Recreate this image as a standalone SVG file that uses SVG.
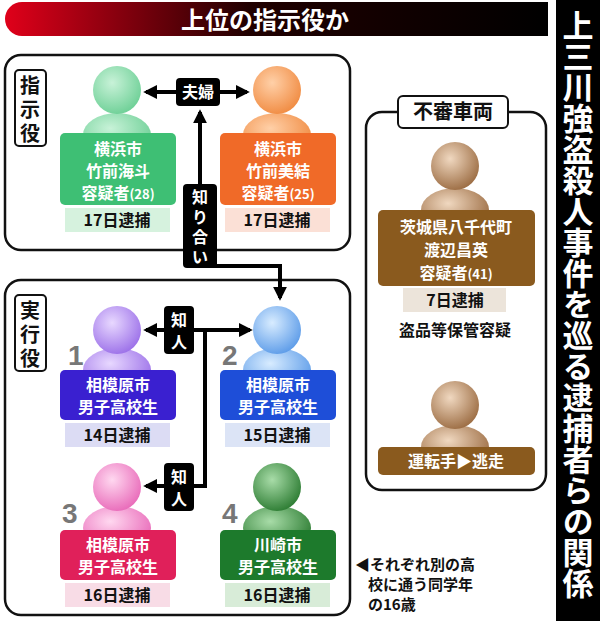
<svg xmlns="http://www.w3.org/2000/svg" width="600" height="621" viewBox="0 0 600 621">
<style>
text{font-family:"Noto Sans CJK JP","Liberation Sans",sans-serif;font-weight:bold}
.w{fill:#fff;font-size:16px;text-anchor:middle}
.d{fill:#111;font-size:16px;text-anchor:middle}
.v{fill:#111;font-size:20px;text-anchor:middle}
.frame{fill:#fff;stroke:#111;stroke-width:2.5}
.lbl{fill:#fff;stroke:#111;stroke-width:2}
.ln{stroke:#000;stroke-width:4;fill:none}
.num{fill:#777;font-size:28px;font-family:"Liberation Sans",sans-serif}
</style>
<defs>
<linearGradient id="tg" x1="0" x2="1"><stop offset="0" stop-color="#e0001a"/><stop offset="0.45" stop-color="#200000"/><stop offset="1" stop-color="#000"/></linearGradient>
<radialGradient id="gG" cx="0.4" cy="0.35" r="0.7"><stop offset="0" stop-color="#c8f2d8"/><stop offset="1" stop-color="#6ccf95"/></radialGradient>
<radialGradient id="gO" cx="0.4" cy="0.35" r="0.7"><stop offset="0" stop-color="#ffd0a8"/><stop offset="1" stop-color="#f08a40"/></radialGradient>
<radialGradient id="gP" cx="0.4" cy="0.35" r="0.7"><stop offset="0" stop-color="#e8d8ff"/><stop offset="1" stop-color="#9a6ee8"/></radialGradient>
<radialGradient id="gB" cx="0.4" cy="0.35" r="0.7"><stop offset="0" stop-color="#d8ecff"/><stop offset="1" stop-color="#5a9ae8"/></radialGradient>
<radialGradient id="gK" cx="0.4" cy="0.35" r="0.7"><stop offset="0" stop-color="#ffd8f0"/><stop offset="1" stop-color="#e868b8"/></radialGradient>
<radialGradient id="gD" cx="0.4" cy="0.35" r="0.7"><stop offset="0" stop-color="#a8dca8"/><stop offset="1" stop-color="#2a7a30"/></radialGradient>
<radialGradient id="gN" cx="0.4" cy="0.35" r="0.7"><stop offset="0" stop-color="#f0d8c0"/><stop offset="1" stop-color="#9a6a40"/></radialGradient>
<marker id="ah" viewBox="0 0 10 10" refX="8" refY="5" markerWidth="3.5" markerHeight="3.5" orient="auto-start-reverse"><path d="M0,0L10,5L0,10z" fill="#000"/></marker>
</defs>
<rect width="600" height="621" fill="#fff"/>
<g id="title">
<path d="M22,2H548V36H22A17,17 0 0 1 22,2Z" fill="url(#tg)"/>
<text x="265" y="29" fill="#fff" font-size="24" text-anchor="middle">上位の指示役か</text>
</g>
<g id="side">
<rect x="556" y="0" width="44" height="621" fill="#000"/>
<text x="578" y="10" fill="#fff" font-size="31" style="writing-mode:vertical-rl;text-anchor:start">上三川強盗殺人事件を巡る逮捕者らの関係</text>
</g>
<rect class="frame" x="5" y="55" width="345" height="195" rx="16"/>
<rect class="frame" x="5" y="280" width="345" height="335" rx="16"/>
<rect class="frame" x="366" y="112" width="180" height="378" rx="16"/>
<g id="boxlabels">
<rect class="lbl" x="15" y="70" width="31" height="76" rx="4"/>
<text x="30" y="93" class="v">指</text><text x="30" y="117" class="v">示</text><text x="30" y="141" class="v">役</text>
<rect class="lbl" x="15" y="295" width="31" height="76" rx="4"/>
<text x="30" y="318" class="v">実</text><text x="30" y="342" class="v">行</text><text x="30" y="366" class="v">役</text>
<rect class="lbl" x="398" y="96" width="110" height="32" rx="5"/>
<text x="453" y="119" class="v">不審車両</text>
</g>
<g id="connectors">
<line class="ln" x1="146" y1="92" x2="247" y2="92" marker-start="url(#ah)" marker-end="url(#ah)"/>
<path class="ln" d="M200,268V112" marker-end="url(#ah)"/>
<path class="ln" d="M200,266H280V298" marker-end="url(#ah)"/>
<line class="ln" x1="146" y1="330" x2="250" y2="330" marker-start="url(#ah)" marker-end="url(#ah)"/>
<path class="ln" d="M205,330V486H146" marker-end="url(#ah)"/>
<rect x="176" y="78" width="44" height="28" rx="4" fill="#000"/><text x="198" y="98" class="w">夫婦</text>
<rect x="183" y="184" width="34" height="84" rx="4" fill="#000"/>
<text x="200" y="203" class="w">知</text><text x="200" y="223" class="w">り</text><text x="200" y="243" class="w">合</text><text x="200" y="263" class="w">い</text>
<rect x="164" y="306" width="30" height="48" rx="4" fill="#000"/><text x="179" y="326" class="w">知</text><text x="179" y="348" class="w">人</text>
<rect x="164" y="463" width="30" height="48" rx="4" fill="#000"/><text x="179" y="483" class="w">知</text><text x="179" y="505" class="w">人</text>
</g>
<g id="p-kaito">
<ellipse cx="117" cy="135" rx="34" ry="22" fill="url(#gG)"/><circle cx="117" cy="90" r="24" fill="url(#gG)"/>
<rect x="60" y="133" width="116" height="72" rx="5" fill="#3ebf74"/>
<text x="118" y="155" class="w">横浜市</text><text x="118" y="177" class="w">竹前海斗</text><text x="118" y="199" class="w">容疑者<tspan font-size="13">(28)</tspan></text>
<rect x="65" y="208" width="105" height="24" fill="#d6f2de"/><text x="117" y="226" class="d">17日逮捕</text>
</g>
<g id="p-miyu">
<ellipse cx="277" cy="135" rx="34" ry="22" fill="url(#gO)"/><circle cx="277" cy="90" r="24" fill="url(#gO)"/>
<rect x="220" y="133" width="116" height="72" rx="5" fill="#f06a28"/>
<text x="278" y="155" class="w">横浜市</text><text x="278" y="177" class="w">竹前美結</text><text x="278" y="199" class="w">容疑者<tspan font-size="13">(25)</tspan></text>
<rect x="225" y="208" width="105" height="24" fill="#fbe0d6"/><text x="277" y="226" class="d">17日逮捕</text>
</g>
<g id="p1">
<ellipse cx="117" cy="370" rx="34" ry="22" fill="url(#gP)"/><circle cx="117" cy="330" r="24" fill="url(#gP)"/>
<text x="68" y="365" class="num">1</text>
<rect x="60" y="370" width="116" height="50" rx="5" fill="#3a20d0"/>
<text x="118" y="391" class="w">相模原市</text><text x="118" y="413" class="w">男子高校生</text>
<rect x="65" y="423" width="105" height="24" fill="#dcdcf4"/><text x="117" y="441" class="d">14日逮捕</text>
</g>
<g id="p2">
<ellipse cx="277" cy="370" rx="34" ry="22" fill="url(#gB)"/><circle cx="277" cy="330" r="24" fill="url(#gB)"/>
<text x="222" y="365" class="num">2</text>
<rect x="220" y="370" width="116" height="50" rx="5" fill="#1e4ed8"/>
<text x="278" y="391" class="w">相模原市</text><text x="278" y="413" class="w">男子高校生</text>
<rect x="225" y="423" width="105" height="24" fill="#dce4f6"/><text x="277" y="441" class="d">15日逮捕</text>
</g>
<g id="p3">
<ellipse cx="117" cy="528" rx="34" ry="22" fill="url(#gK)"/><circle cx="117" cy="487" r="24" fill="url(#gK)"/>
<text x="62" y="523" class="num">3</text>
<rect x="60" y="530" width="116" height="50" rx="5" fill="#e0205a"/>
<text x="118" y="551" class="w">相模原市</text><text x="118" y="573" class="w">男子高校生</text>
<rect x="65" y="583" width="105" height="24" fill="#f8dce6"/><text x="117" y="601" class="d">16日逮捕</text>
</g>
<g id="p4">
<ellipse cx="277" cy="528" rx="34" ry="22" fill="url(#gD)"/><circle cx="277" cy="487" r="24" fill="url(#gD)"/>
<text x="222" y="523" class="num">4</text>
<rect x="220" y="530" width="116" height="50" rx="5" fill="#1d7a2c"/>
<text x="278" y="551" class="w">川崎市</text><text x="278" y="573" class="w">男子高校生</text>
<rect x="225" y="583" width="105" height="24" fill="#d8ecd8"/><text x="277" y="601" class="d">16日逮捕</text>
</g>
<g id="p-watanabe">
<ellipse cx="455" cy="210" rx="34" ry="22" fill="url(#gN)"/><circle cx="455" cy="166" r="24" fill="url(#gN)"/>
<rect x="378" y="210" width="157" height="76" rx="5" fill="#8a5a1e"/>
<text x="456" y="233" class="w">茨城県八千代町</text><text x="456" y="256" class="w">渡辺昌英</text><text x="456" y="279" class="w">容疑者<tspan font-size="13">(41)</tspan></text>
<rect x="403" y="288" width="103" height="24" fill="#ece4da"/><text x="455" y="306" class="d">7日逮捕</text>
<text x="455" y="336" class="d">盗品等保管容疑</text>
</g>
<g id="p-driver">
<ellipse cx="455" cy="447" rx="34" ry="22" fill="url(#gN)"/><circle cx="455" cy="405" r="24" fill="url(#gN)"/>
<rect x="378" y="447" width="157" height="28" rx="5" fill="#8a5a1e"/>
<text x="456" y="467" class="w">運転手▶逃走</text>
</g>
<g id="note">
<text x="355" y="570" class="d" style="font-size:15px;text-anchor:start">◀それぞれ別の高</text>
<text x="368" y="590" class="d" style="font-size:15px;text-anchor:start">校に通う同学年</text>
<text x="368" y="610" class="d" style="font-size:15px;text-anchor:start">の16歳</text>
</g>
</svg>
